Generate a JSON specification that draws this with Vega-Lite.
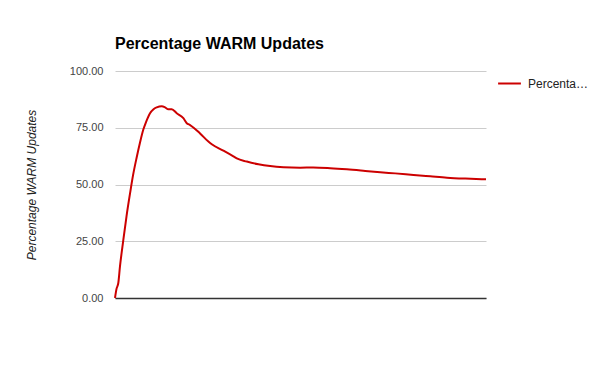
{
  "$schema": "https://vega.github.io/schema/vega-lite/v6.json",
  "autosize": "none",
  "width": 371,
  "height": 227,
  "padding": {"left": 115, "top": 71, "right": 114, "bottom": 73},
  "background": "white",
  "config": {
    "font": "Liberation Sans",
    "view": {"stroke": null}
  },
  "title": {
    "text": "Percentage WARM Updates",
    "anchor": "start",
    "frame": "group",
    "fontSize": 16,
    "fontWeight": "bold",
    "color": "#000000",
    "font": "Liberation Sans",
    "offset": 13
  },
  "data": {
    "values": [
      {"t": 0, "pct": 0, "series": "Percentage WARM Updates"},
      {"t": 1.5, "pct": 4, "series": "Percentage WARM Updates"},
      {"t": 3.3, "pct": 6.6, "series": "Percentage WARM Updates"},
      {"t": 5, "pct": 14, "series": "Percentage WARM Updates"},
      {"t": 8.3, "pct": 25.5, "series": "Percentage WARM Updates"},
      {"t": 11.5, "pct": 36, "series": "Percentage WARM Updates"},
      {"t": 15, "pct": 46, "series": "Percentage WARM Updates"},
      {"t": 18, "pct": 54, "series": "Percentage WARM Updates"},
      {"t": 21.7, "pct": 62, "series": "Percentage WARM Updates"},
      {"t": 25, "pct": 68.5, "series": "Percentage WARM Updates"},
      {"t": 28.3, "pct": 74.2, "series": "Percentage WARM Updates"},
      {"t": 31, "pct": 77.5, "series": "Percentage WARM Updates"},
      {"t": 35, "pct": 81.4, "series": "Percentage WARM Updates"},
      {"t": 38.5, "pct": 83.2, "series": "Percentage WARM Updates"},
      {"t": 41.7, "pct": 84.0, "series": "Percentage WARM Updates"},
      {"t": 46.7, "pct": 84.5, "series": "Percentage WARM Updates"},
      {"t": 50, "pct": 84.0, "series": "Percentage WARM Updates"},
      {"t": 53.3, "pct": 83.1, "series": "Percentage WARM Updates"},
      {"t": 56.7, "pct": 83.2, "series": "Percentage WARM Updates"},
      {"t": 61.7, "pct": 81.4, "series": "Percentage WARM Updates"},
      {"t": 68.3, "pct": 79.2, "series": "Percentage WARM Updates"},
      {"t": 71.7, "pct": 77.0, "series": "Percentage WARM Updates"},
      {"t": 75, "pct": 76.2, "series": "Percentage WARM Updates"},
      {"t": 85, "pct": 72.5, "series": "Percentage WARM Updates"},
      {"t": 93.3, "pct": 68.9, "series": "Percentage WARM Updates"},
      {"t": 96.7, "pct": 67.7, "series": "Percentage WARM Updates"},
      {"t": 108.3, "pct": 64.9, "series": "Percentage WARM Updates"},
      {"t": 118.3, "pct": 62.4, "series": "Percentage WARM Updates"},
      {"t": 121.7, "pct": 61.5, "series": "Percentage WARM Updates"},
      {"t": 131.7, "pct": 60.1, "series": "Percentage WARM Updates"},
      {"t": 143.3, "pct": 58.9, "series": "Percentage WARM Updates"},
      {"t": 155, "pct": 58.1, "series": "Percentage WARM Updates"},
      {"t": 168.3, "pct": 57.6, "series": "Percentage WARM Updates"},
      {"t": 185, "pct": 57.4, "series": "Percentage WARM Updates"},
      {"t": 198, "pct": 57.5, "series": "Percentage WARM Updates"},
      {"t": 215, "pct": 57.2, "series": "Percentage WARM Updates"},
      {"t": 231.7, "pct": 56.7, "series": "Percentage WARM Updates"},
      {"t": 250, "pct": 56, "series": "Percentage WARM Updates"},
      {"t": 265, "pct": 55.4, "series": "Percentage WARM Updates"},
      {"t": 280, "pct": 54.9, "series": "Percentage WARM Updates"},
      {"t": 298.3, "pct": 54.2, "series": "Percentage WARM Updates"},
      {"t": 315, "pct": 53.6, "series": "Percentage WARM Updates"},
      {"t": 331.7, "pct": 53.0, "series": "Percentage WARM Updates"},
      {"t": 350, "pct": 52.6, "series": "Percentage WARM Updates"},
      {"t": 370.7, "pct": 52.3, "series": "Percentage WARM Updates"}
    ]
  },
  "mark": {"type": "line", "strokeWidth": 2, "interpolate": "monotone"},
  "encoding": {
    "x": {
      "field": "t",
      "type": "quantitative",
      "scale": {"domain": [0, 370.7], "nice": false, "zero": false},
      "axis": {"title": null, "labels": false, "ticks": false, "grid": false, "domainColor": "#333333", "domainWidth": 1.5}
    },
    "y": {
      "field": "pct",
      "type": "quantitative",
      "scale": {"domain": [0, 100], "nice": false},
      "axis": {
        "values": [0, 25, 50, 75, 100],
        "format": ".2f",
        "title": "Percentage WARM Updates",
        "titleFontStyle": "italic",
        "titleFontWeight": "normal",
        "titleFontSize": 12,
        "titleColor": "#222222",
        "titlePadding": 31,
        "labelFontSize": 11,
        "labelColor": "#444444",
        "labelPadding": 12,
        "ticks": false,
        "domain": false,
        "gridColor": "#cccccc"
      }
    },
    "color": {
      "field": "series",
      "type": "nominal",
      "scale": {"range": ["#cc0000"]},
      "legend": {
        "title": null,
        "orient": "right",
        "offset": 7,
        "symbolType": "stroke",
        "symbolStrokeWidth": 2,
        "symbolSize": 520,
        "labelFontSize": 12,
        "labelColor": "#222222",
        "labelLimit": 66,
        "labelOffset": 6
      }
    }
  }
}
